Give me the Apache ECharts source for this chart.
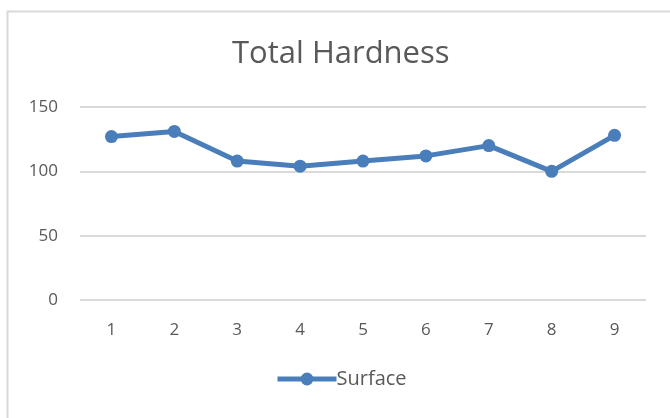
<!DOCTYPE html>
<html>
<head>
<meta charset="utf-8">
<script src="https://cdn.jsdelivr.net/npm/echarts@6/dist/echarts.min.js"></script>
<style>
  html, body { margin: 0; padding: 0; background: #ffffff; }
  #chart { width: 670px; height: 418px; }
</style>
</head>
<body>
<div id="chart"></div>
<script>
// Sample sites and measured total hardness at the surface
const categories = ['1', '2', '3', '4', '5', '6', '7', '8', '9'];
const surface = [127, 131, 108, 104, 108, 112, 120, 100, 128];
const yTicks = { min: 0, max: 150, interval: 50 };

const textColor = '#595959';
const fontFamily = '"Open Sans", "Noto Sans", sans-serif';
const lineColor = '#4a7ebb';

const chart = echarts.init(document.getElementById('chart'), null, { renderer: 'canvas' });
chart.setOption({
  backgroundColor: '#ffffff',
  animation: false,
  graphic: [{
    type: 'rect',
    left: 5, top: 9,
    shape: { x: 0, y: 0, width: 700, height: 450 },
    style: { fill: 'none', stroke: '#d9d9d9', lineWidth: 2 },
    silent: true, z: -1
  }],
  title: {
    text: 'Total Hardness',
    left: 227,
    top: 34,
    textStyle: { color: textColor, fontFamily: fontFamily, fontSize: 31, fontWeight: 'normal' }
  },
  legend: {
    bottom: 24,
    left: 270,
    itemWidth: 59,
    itemHeight: 16,
    itemGap: 10,
    lineStyle: { width: 5 },
    textStyle: { color: textColor, fontFamily: fontFamily, fontSize: 20, padding: [0, 0, 0, -5] },
    data: ['Surface']
  },
  grid: { left: 80, right: 24, top: 107, bottom: 118 },
  xAxis: {
    type: 'category',
    data: categories,
    boundaryGap: true,
    axisLine: { show: false },
    axisTick: { show: false },
    axisLabel: { color: textColor, fontFamily: fontFamily, fontSize: 17, margin: 22 }
  },
  yAxis: {
    type: 'value',
    min: yTicks.min, max: yTicks.max, interval: yTicks.interval,
    axisLine: { show: false },
    axisTick: { show: false },
    splitLine: { lineStyle: { color: '#d9d9d9', width: 2 } },
    axisLabel: { color: textColor, fontFamily: fontFamily, fontSize: 17, margin: 22 }
  },
  series: [{
    name: 'Surface',
    type: 'line',
    data: surface,
    symbol: 'circle',
    symbolSize: 13,
    lineStyle: { color: lineColor, width: 5 },
    itemStyle: { color: lineColor }
  }]
});
</script>
</body>
</html>
